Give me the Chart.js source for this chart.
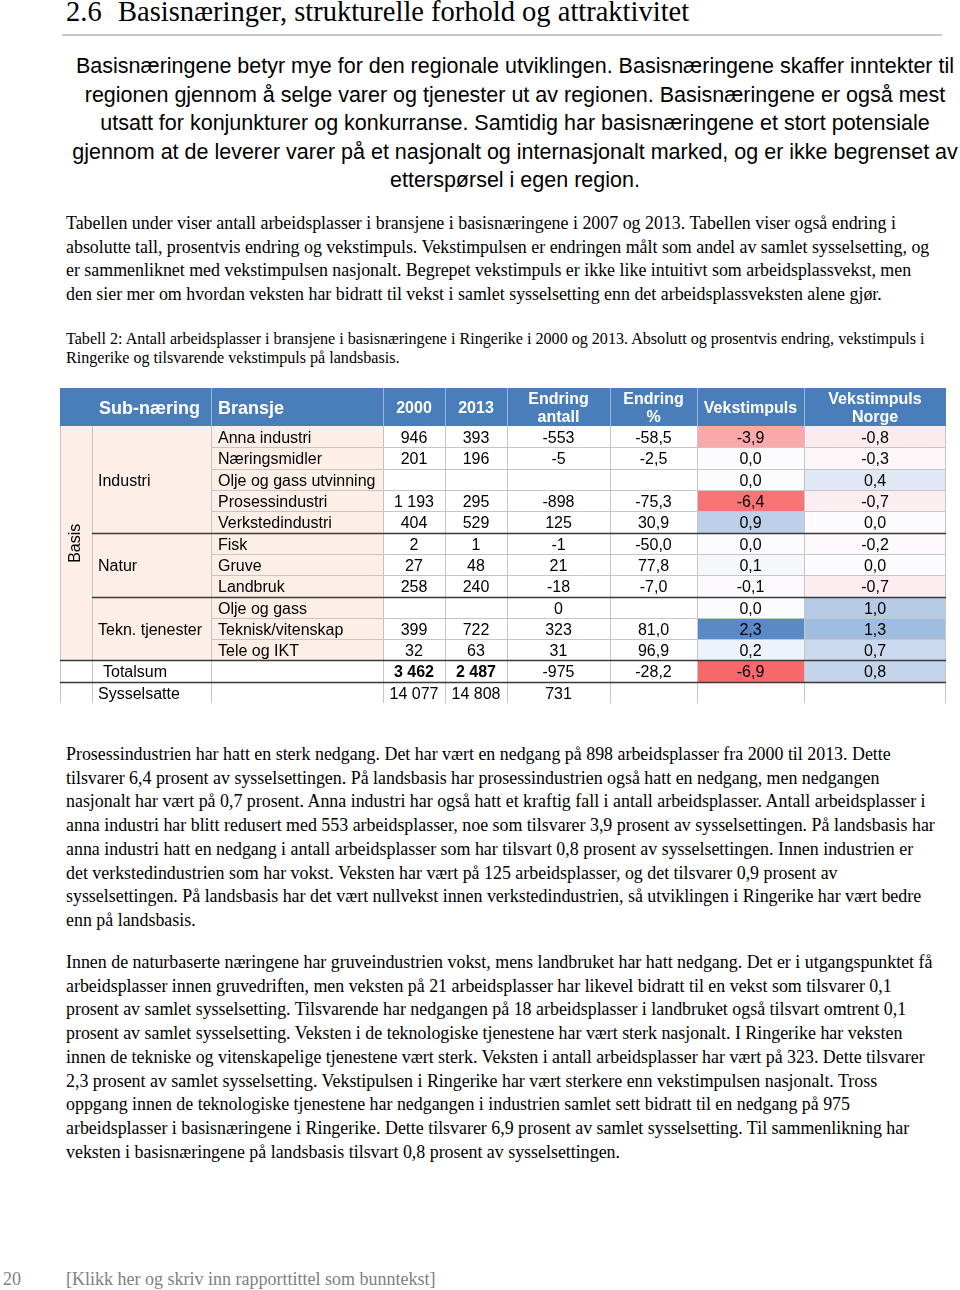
<!DOCTYPE HTML>
<html>
<head>
<title>Basisnæringer, strukturelle forhold og attraktivitet</title>
<script src="https://cdn.jsdelivr.net/npm/chart.js@4.4.1/dist/chart.umd.min.js"></script>
<style>
    body {
            margin: 0;
            background-color: #ffffff;
    }
    #page {
            position: relative;
            width: 960px;
            height: 1290px;
            overflow: hidden;
    }
    .serif {
            font-family: "Liberation Serif", "Times New Roman", serif;
    }
    .sans {
            font-family: "Liberation Sans", Arial, sans-serif;
    }
    #title span {
            position: absolute;
            top: -3px;
            font-size: 28.5px;
            line-height: 30px;
            white-space: nowrap;
    }
    #rule {
            position: absolute;
            left: 62px;
            top: 34px;
            width: 880px;
            height: 2px;
            background-color: #c8c8c8;
    }
    #intro {
            position: absolute;
            left: 70px;
            top: 52px;
            width: 890px;
            text-align: center;
            font-size: 21.5px;
            line-height: 28.5px;
            white-space: nowrap;
    }
    .para {
            position: absolute;
            left: 66px;
            font-size: 17.9px;
            line-height: 23.7px;
            white-space: nowrap;
    }
    #caption {
            position: absolute;
            left: 66px;
            top: 330px;
            font-size: 16.1px;
            line-height: 18.5px;
            white-space: nowrap;
    }
    #tableWrap {
            position: absolute;
            left: 60px;
            top: 388px;
            width: 886px;
            height: 315px;
    }
    #footer span {
            position: absolute;
            top: 1267px;
            font-size: 18px;
            line-height: 24px;
            color: #808080;
            white-space: nowrap;
    }
</style>
</head>

<body>
<div id="page">

    <div id="title" class="serif">
        <span style="left:66px;">2.6</span>
        <span style="left:118px;">Basisnæringer, strukturelle forhold og attraktivitet</span>
    </div>
    <div id="rule"></div>

    <div id="intro" class="sans">
        <div>Basisnæringene betyr mye for den regionale utviklingen. Basisnæringene skaffer inntekter til</div>
        <div>regionen gjennom å selge varer og tjenester ut av regionen. Basisnæringene er også mest</div>
        <div>utsatt for konjunkturer og konkurranse. Samtidig har basisnæringene et stort potensiale</div>
        <div>gjennom at de leverer varer på et nasjonalt og internasjonalt marked, og er ikke begrenset av</div>
        <div>etterspørsel i egen region.</div>
    </div>

    <div class="para serif" style="top:212px;">
        <div>Tabellen under viser antall arbeidsplasser i bransjene i basisnæringene i 2007 og 2013. Tabellen viser også endring i</div>
        <div>absolutte tall, prosentvis endring og vekstimpuls. Vekstimpulsen er endringen målt som andel av samlet sysselsetting, og</div>
        <div>er sammenliknet med vekstimpulsen nasjonalt. Begrepet vekstimpuls er ikke like intuitivt som arbeidsplassvekst, men</div>
        <div>den sier mer om hvordan veksten har bidratt til vekst i samlet sysselsetting enn det arbeidsplassveksten alene gjør.</div>
    </div>

    <div id="caption" class="serif">
        <div>Tabell 2: Antall arbeidsplasser i bransjene i basisnæringene i Ringerike i 2000 og 2013. Absolutt og prosentvis endring, vekstimpuls i</div>
        <div>Ringerike og tilsvarende vekstimpuls på landsbasis.</div>
    </div>

    <div id="tableWrap">
        <canvas id="myTable" width="886" height="315"></canvas>
    </div>

    <div class="para serif" style="top:743px;">
        <div>Prosessindustrien har hatt en sterk nedgang. Det har vært en nedgang på 898 arbeidsplasser fra 2000 til 2013. Dette</div>
        <div>tilsvarer 6,4 prosent av sysselsettingen. På landsbasis har prosessindustrien også hatt en nedgang, men nedgangen</div>
        <div>nasjonalt har vært på 0,7 prosent. Anna industri har også hatt et kraftig fall i antall arbeidsplasser. Antall arbeidsplasser i</div>
        <div>anna industri har blitt redusert med 553 arbeidsplasser, noe som tilsvarer 3,9 prosent av sysselsettingen. På landsbasis har</div>
        <div>anna industri hatt en nedgang i antall arbeidsplasser som har tilsvart 0,8 prosent av sysselsettingen. Innen industrien er</div>
        <div>det verkstedindustrien som har vokst. Veksten har vært på 125 arbeidsplasser, og det tilsvarer 0,9 prosent av</div>
        <div>sysselsettingen. På landsbasis har det vært nullvekst innen verkstedindustrien, så utviklingen i Ringerike har vært bedre</div>
        <div>enn på landsbasis.</div>
    </div>

    <div class="para serif" style="top:951px;">
        <div>Innen de naturbaserte næringene har gruveindustrien vokst, mens landbruket har hatt nedgang. Det er i utgangspunktet få</div>
        <div>arbeidsplasser innen gruvedriften, men veksten på 21 arbeidsplasser har likevel bidratt til en vekst som tilsvarer 0,1</div>
        <div>prosent av samlet sysselsetting. Tilsvarende har nedgangen på 18 arbeidsplasser i landbruket også tilsvart omtrent 0,1</div>
        <div>prosent av samlet sysselsetting. Veksten i de teknologiske tjenestene har vært sterk nasjonalt. I Ringerike har veksten</div>
        <div>innen de tekniske og vitenskapelige tjenestene vært sterk. Veksten i antall arbeidsplasser har vært på 323. Dette tilsvarer</div>
        <div>2,3 prosent av samlet sysselsetting. Vekstipulsen i Ringerike har vært sterkere enn vekstimpulsen nasjonalt. Tross</div>
        <div>oppgang innen de teknologiske tjenestene har nedgangen i industrien samlet sett bidratt til en nedgang på 975</div>
        <div>arbeidsplasser i basisnæringene i Ringerike. Dette tilsvarer 6,9 prosent av samlet sysselsetting. Til sammenlikning har</div>
        <div>veksten i basisnæringene på landsbasis tilsvart 0,8 prosent av sysselsettingen.</div>
    </div>

    <div id="footer" class="serif">
        <span style="left:3px;">20</span>
        <span style="left:66px;">[Klikk her og skriv inn rapporttittel som bunntekst]</span>
    </div>

</div>

<script>

// table data
var headers = ["", "Sub-næring", "Bransje", "2000", "2013", "Endring\nantall", "Endring\n%", "Vekstimpuls", "Vekstimpuls\nNorge"];
var subNaeringer = ["Industri", "Natur", "Tekn. tjenester"];
var subNaeringRows = [5, 3, 3];
var bransjer = ["Anna industri", "Næringsmidler", "Olje og gass utvinning", "Prosessindustri", "Verkstedindustri",
                "Fisk", "Gruve", "Landbruk", "Olje og gass", "Teknisk/vitenskap", "Tele og IKT"];
var arb2000 = [946, 201, null, 1193, 404, 2, 27, 258, null, 399, 32];
var arb2013 = [393, 196, null, 295, 529, 1, 48, 240, null, 722, 63];
var endringAntall = [-553, -5, null, -898, 125, -1, 21, -18, 0, 323, 31];
var endringPst = [-58.5, -2.5, null, -75.3, 30.9, -50.0, 77.8, -7.0, null, 81.0, 96.9];
var vekstimpuls = [-3.9, 0.0, 0.0, -6.4, 0.9, 0.0, 0.1, -0.1, 0.0, 2.3, 0.2];
var vekstimpulsNorge = [-0.8, -0.3, 0.4, -0.7, 0.0, -0.2, 0.0, -0.7, 1.0, 1.3, 0.7];
var totalsum = [3462, 2487, -975, -28.2, -6.9, 0.8];
var sysselsatte = [14077, 14808, 731, null, null, null];

// layout of the grid (x scale units = px of the table)
var colEdges = [0, 32, 151, 323, 385, 447, 550, 637, 744, 886];
var headerRows = 1.79;
var nRows = bransjer.length + 2;

var fmtInt = function (v) {
    return String(v).replace(/\B(?=(\d{3})+(?!\d))/g, " ");
};
var fmtDec = function (v) {
    return v.toFixed(1).replace(".", ",");
};

// numeric part of every row: 2000, 2013, antall, %, vekstimpuls, norge
var rows = [];
for (var i = 0; i < bransjer.length; i++) {
    rows.push([arb2000[i], arb2013[i], endringAntall[i], endringPst[i], vekstimpuls[i], vekstimpulsNorge[i]]);
}
rows.push(totalsum);
rows.push(sysselsatte);

var heatValues = vekstimpuls.concat(vekstimpulsNorge, [totalsum[4], totalsum[5]]);
var heatMin = Math.min.apply(null, heatValues);
var heatMax = Math.max.apply(null, heatValues);

// red - white - blue colour scale, like Excel
var heatColor = function (v) {
    var mid = [252, 252, 255];
    var end = v < 0 ? [248, 105, 107] : [90, 138, 198];
    var t = v < 0 ? v / heatMin : v / heatMax;
    var c = mid.map(function (m, k) { return Math.round(m + (end[k] - m) * t); });
    return "rgb(" + c.join(",") + ")";
};

var tablePlugin = {
    id: "tableCells",
    afterDraw: function (chart) {
        var ctx = chart.ctx;
        var xs = chart.scales.x, ys = chart.scales.y;
        var X = function (c) { return Math.round(xs.getPixelForValue(colEdges[c])); };
        var Y = function (r) { return Math.round(ys.getPixelForValue(r)); };
        var cell = function (c0, c1, r0, r1, color) {
            ctx.fillStyle = color;
            ctx.fillRect(X(c0), Y(r0), X(c1) - X(c0), Y(r1) - Y(r0));
        };
        var hline = function (c0, c1, r, color, w) {
            ctx.strokeStyle = color;
            ctx.lineWidth = w;
            ctx.beginPath();
            ctx.moveTo(X(c0), Y(r) + 0.5);
            ctx.lineTo(X(c1), Y(r) + 0.5);
            ctx.stroke();
        };
        var vline = function (c, r0, r1, color) {
            var x = Math.min(X(c), chart.width - 1) + 0.5;
            ctx.strokeStyle = color;
            ctx.lineWidth = 1;
            ctx.beginPath();
            ctx.moveTo(x, Y(r0));
            ctx.lineTo(x, Y(r1));
            ctx.stroke();
        };
        var text = function (str, x, y, align, font, color) {
            ctx.font = font;
            ctx.fillStyle = color;
            ctx.textAlign = align;
            ctx.textBaseline = "middle";
            ctx.fillText(str, x, y + 2);
        };
        var midX = function (c) { return (X(c) + X(c + 1)) / 2; };
        var midY = function (r0, r1) { return (ys.getPixelForValue(r0) + ys.getPixelForValue(r1)) / 2; };
        var sans = '"Liberation Sans", Arial, sans-serif';

        ctx.save();

        // backgrounds
        cell(0, 9, 0, nRows, "#ffffff");
        cell(0, 3, 0, bransjer.length, "#fdefe7");
        cell(0, 9, -headerRows, 0, "#4a7ebb");
        rows.forEach(function (row, r) {
            if (row[4] !== null) cell(7, 8, r, r + 1, heatColor(row[4]));
            if (row[5] !== null) cell(8, 9, r, r + 1, heatColor(row[5]));
        });

        // grid lines
        for (var r = 1; r < bransjer.length; r++) hline(2, 9, r, "#c6c6c6", 1);
        hline(0, 9, nRows, "#c6c6c6", 1);
        for (var c = 0; c <= 9; c++) vline(c, 0, nRows, "#c6c6c6");
        for (var c2 = 2; c2 < 9; c2++) vline(c2, -headerRows, 0, "rgba(255,255,255,0.45)");
        var acc = 0;
        subNaeringRows.forEach(function (n, k) {
            acc += n;
            if (k < subNaeringRows.length - 1) hline(1, 9, acc, "#3a3a3a", 1.5);
        });
        hline(0, 9, bransjer.length, "#3a3a3a", 1.5);
        hline(0, 9, bransjer.length + 1, "#3a3a3a", 1.5);

        // header
        var hy = midY(-headerRows, 0);
        headers.forEach(function (h, c) {
            if (!h) return;
            var parts = h.split("\n");
            if (c === 1 || c === 2) {
                text(h, X(c) + 7, hy, "left", "bold 18px " + sans, "#ffffff");
            } else if (parts.length === 1) {
                text(h, midX(c), hy, "center", "bold 16px " + sans, "#ffffff");
            } else {
                text(parts[0], midX(c), hy - 9, "center", "bold 16px " + sans, "#ffffff");
                text(parts[1], midX(c), hy + 9, "center", "bold 16px " + sans, "#ffffff");
            }
        });

        // body text
        var body = "16px " + sans;
        ctx.save();
        ctx.translate(midX(0) - 2, midY(0, bransjer.length));
        ctx.rotate(-Math.PI / 2);
        text("Basis", 0, 0, "center", body, "#000000");
        ctx.restore();

        var start = 0;
        subNaeringer.forEach(function (s, k) {
            text(s, X(1) + 6, midY(start, start + subNaeringRows[k]), "left", body, "#000000");
            start += subNaeringRows[k];
        });
        bransjer.forEach(function (b, r) {
            text(b, X(2) + 7, midY(r, r + 1), "left", body, "#000000");
        });
        text("Totalsum", X(1) + 11, midY(bransjer.length, bransjer.length + 1), "left", body, "#000000");
        text("Sysselsatte", X(1) + 6, midY(bransjer.length + 1, bransjer.length + 2), "left", body, "#000000");

        rows.forEach(function (row, r) {
            row.forEach(function (v, k) {
                if (v === null) return;
                var str = k < 3 ? fmtInt(v) : fmtDec(v);
                var bold = r === bransjer.length && k < 2;
                text(str, midX(k + 3), midY(r, r + 1), "center", (bold ? "bold " : "") + body, "#000000");
            });
        });

        ctx.restore();
    }
};

var ctxTable = document.getElementById("myTable").getContext("2d");

var table = new Chart(ctxTable, {
    type: "scatter",
    data: {
        datasets: [{
            data: [],
        }]
    },
    options: {
        responsive: false,
        animation: false,
        layout: { padding: 0 },
        scales: {
            x: { type: "linear", min: colEdges[0], max: colEdges[colEdges.length - 1], display: false },
            y: { type: "linear", min: -headerRows, max: nRows, reverse: true, display: false }
        },
        plugins: {
            legend: { display: false },
            tooltip: { enabled: false }
        }
    },
    plugins: [tablePlugin]
});

</script>
</body>
</html>
